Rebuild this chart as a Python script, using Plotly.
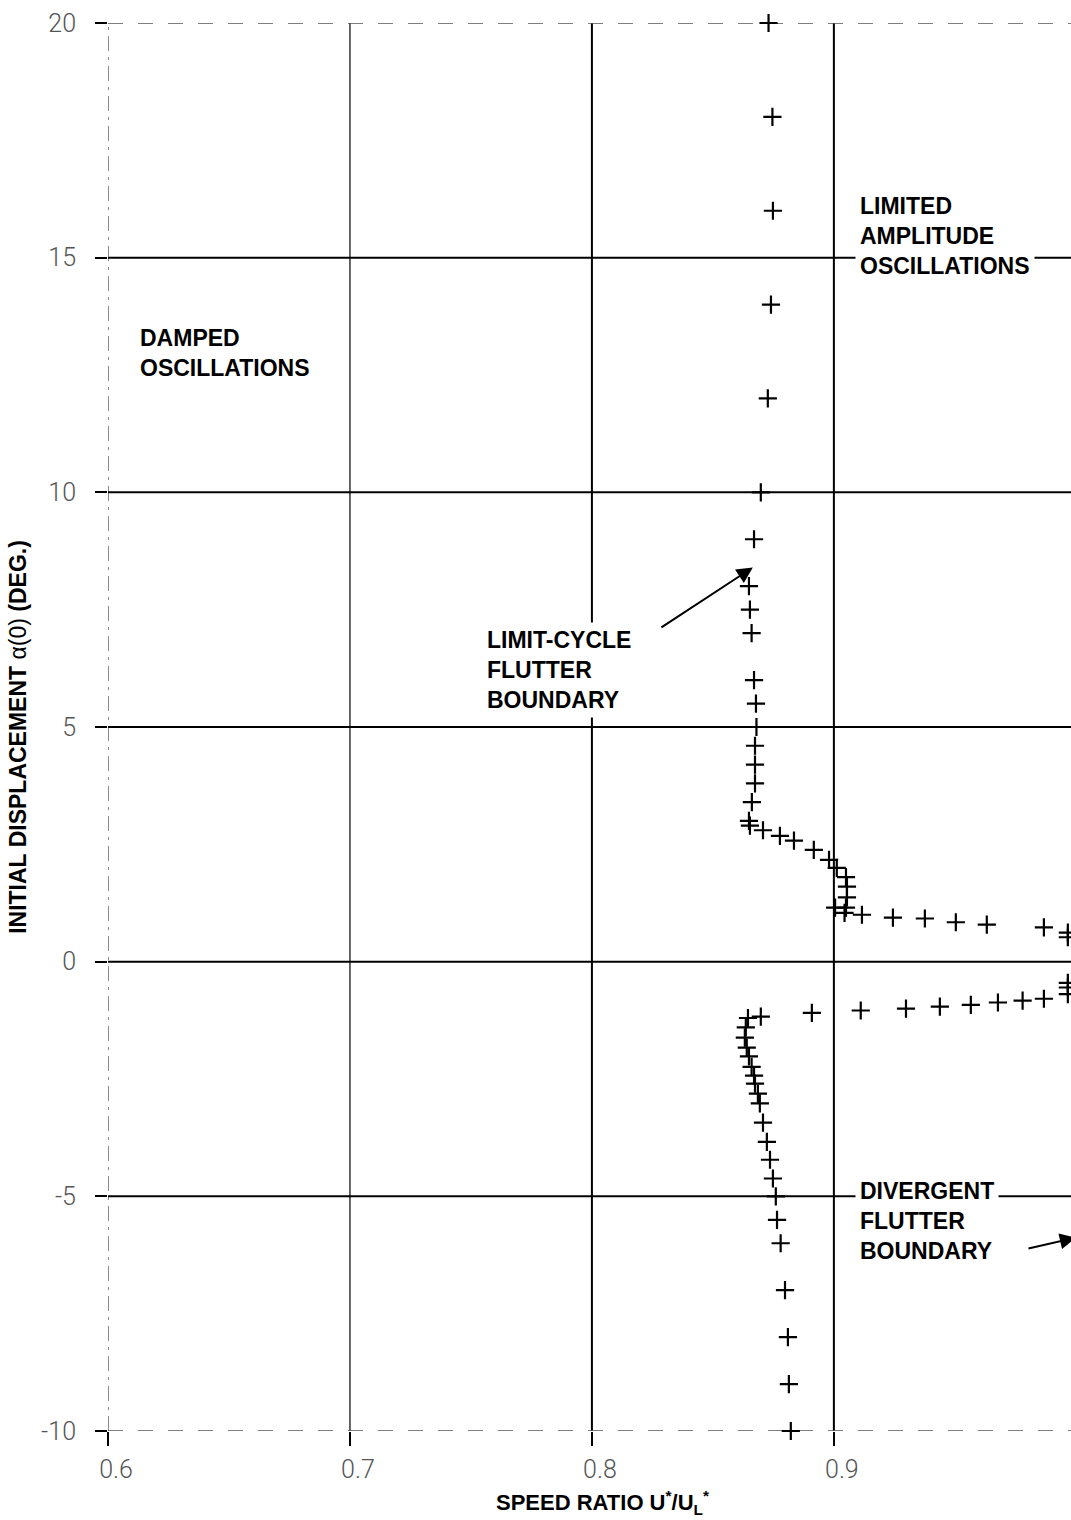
import plotly.graph_objects as go

# Flutter boundary points: speed ratio U*/U_L* vs initial displacement alpha(0) [deg]
limit_cycle_speed = [0.8730, 0.8746, 0.8748, 0.8740, 0.8727, 0.8698, 0.8670, 0.8649,
                     0.8653, 0.8660, 0.8670, 0.8678, 0.8680, 0.8674, 0.8674, 0.8674,
                     0.8661, 0.8649, 0.8653, 0.8707, 0.8777, 0.8835, 0.8917, 0.8980,
                     0.9012, 0.9050, 0.9054, 0.9054, 0.9050, 0.9005, 0.9044, 0.9116,
                     0.9244, 0.9376, 0.9504, 0.9632, 0.9868, 0.9967, 0.9967]
limit_cycle_alpha = [20.0, 18.0, 16.0, 14.0, 12.0, 10.0, 9.0, 8.0,
                     7.5, 7.0, 6.0, 5.5, 5.0, 4.6, 4.2, 3.8,
                     3.4, 3.0, 2.9, 2.8, 2.68, 2.58, 2.38, 2.17,
                     2.0, 1.8, 1.6, 1.37, 1.15, 1.15, 1.04, 1.0,
                     0.94, 0.92, 0.84, 0.79, 0.73, 0.62, 0.52]

divergent_speed = [0.9967, 0.9967, 0.9967, 0.9868, 0.9780, 0.9678, 0.9566, 0.9438,
                   0.9298, 0.9111, 0.8909, 0.8698, 0.8645, 0.8636, 0.8632, 0.8640,
                   0.8649, 0.8660, 0.8670, 0.8674, 0.8686, 0.8694, 0.8707, 0.8723,
                   0.8736, 0.8748, 0.8760, 0.8765, 0.8780, 0.8798, 0.8810, 0.8814,
                   0.8822]
divergent_alpha = [-0.45, -0.55, -0.69, -0.79, -0.83, -0.87, -0.92, -0.96,
                   -1.0, -1.04, -1.09, -1.17, -1.2, -1.4, -1.62, -1.83,
                   -2.02, -2.24, -2.43, -2.6, -2.81, -3.02, -3.43, -3.84,
                   -4.22, -4.62, -5.0, -5.5, -6.0, -7.0, -8.0, -9.0,
                   -10.0]

x_ticks = [0.6, 0.7, 0.8, 0.9]
x_tick_text = ["0.6", "0.7", "0.8", "0.9"]
y_ticks = [-10, -5, 0, 5, 10, 15, 20]
y_tick_text = ["-10", "-5", "0", "5", "10", "15", "20"]

X_RANGE = [0.6, 0.998]
Y_RANGE = [-10, 20]

fig = go.Figure()

marker_style = dict(symbol="cross-thin", size=13, color="black",
                    line=dict(width=2.2, color="black"))

fig.add_trace(go.Scatter(x=limit_cycle_speed, y=limit_cycle_alpha, mode="markers",
                         marker=marker_style, cliponaxis=False, showlegend=False))
fig.add_trace(go.Scatter(x=divergent_speed, y=divergent_alpha, mode="markers",
                         marker=marker_style, cliponaxis=False, showlegend=False))

# grid: frame edges dashed and grey, interior lines solid black
shapes = []
for xv in x_ticks:
    if xv == X_RANGE[0]:
        line = dict(color="#666", width=1.5, dash="longdashdot")
    elif xv == 0.7:
        line = dict(color="#333", width=1.5)
    else:
        line = dict(color="black", width=2)
    shapes.append(dict(type="line", xref="x", yref="paper", x0=xv, x1=xv, y0=0, y1=1,
                       line=line, layer="below"))
for yv in y_ticks:
    if yv in (Y_RANGE[0], Y_RANGE[1]):
        line = dict(color="#555", width=1.5, dash="longdash")
    else:
        line = dict(color="black", width=2)
    shapes.append(dict(type="line", xref="paper", yref="y", x0=0, x1=1, y0=yv, y1=yv,
                       line=line, layer="below"))

label_font = dict(family="Liberation Sans, Arial, sans-serif", size=23, color="black")

annotations = [
    dict(x=0.6124, y=12.96, xref="x", yref="y", xanchor="left", yanchor="middle",
         align="left", showarrow=False, font=label_font,
         text="<b>DAMPED<br>OSCILLATIONS</b>"),
    dict(x=0.9087, y=15.47, xref="x", yref="y", xanchor="left", yanchor="middle",
         align="left", showarrow=False, font=label_font, bgcolor="white", borderpad=4,
         text="<b>LIMITED<br>AMPLITUDE<br>OSCILLATIONS</b>"),
    dict(x=0.7546, y=6.22, xref="x", yref="y", xanchor="left", yanchor="middle",
         align="left", showarrow=False, font=label_font, bgcolor="white", borderpad=4,
         text="<b>LIMIT-CYCLE<br>FLUTTER<br>BOUNDARY</b>"),
    dict(x=0.9087, y=-5.52, xref="x", yref="y", xanchor="left", yanchor="middle",
         align="left", showarrow=False, font=label_font, bgcolor="white", borderpad=4,
         text="<b>DIVERGENT<br>FLUTTER<br>BOUNDARY</b>"),
    # arrows pointing at the two boundaries
    dict(x=0.8665, y=8.40, ax=0.8281, ay=7.10, xref="x", yref="y", axref="x", ayref="y",
         text="", showarrow=True, arrowhead=2, arrowsize=1.6, arrowwidth=2,
         arrowcolor="black"),
    dict(x=1.0, y=-5.88, ax=0.9798, ay=-6.12, xref="x", yref="y", axref="x", ayref="y",
         text="", showarrow=True, arrowhead=2, arrowsize=1.6, arrowwidth=2,
         arrowcolor="black"),
    # axis titles
    dict(x=-0.0935, y=0.493, xref="paper", yref="paper", textangle=-90,
         xanchor="center", yanchor="middle", showarrow=False,
         font=dict(family="Liberation Sans, Arial, sans-serif", size=23, color="black"),
         text="<b>INITIAL DISPLACEMENT</b> α(0) <b>(DEG.)</b>"),
    dict(x=0.513, y=-0.0511, xref="paper", yref="paper", xanchor="center",
         yanchor="middle", showarrow=False,
         font=dict(family="Liberation Sans, Arial, sans-serif", size=22, color="black"),
         text="<b>SPEED RATIO U<sup>*</sup>/U<sub>L</sub><sup>*</sup></b>"),
]

tick_font = dict(family="Roboto, Liberation Sans, sans-serif", size=25, color="#555",
                 weight=300)

fig.update_layout(
    width=1071, height=1520,
    margin=dict(l=108, r=0, t=23, b=89),
    paper_bgcolor="white", plot_bgcolor="white",
    shapes=shapes, annotations=annotations,
    xaxis=dict(range=X_RANGE, tickvals=x_ticks, ticktext=x_tick_text,
               showgrid=False, zeroline=False, showline=False,
               ticks="outside", ticklen=14, tickwidth=1.5, tickcolor="black",
               tickfont=tick_font, ticklabelshift=8, ticklabelstandoff=2),
    yaxis=dict(range=Y_RANGE, tickvals=y_ticks, ticktext=y_tick_text,
               showgrid=False, zeroline=False, showline=False,
               ticks="outside", ticklen=12, tickwidth=1.5, tickcolor="black",
               tickfont=tick_font, ticklabelstandoff=14),
)

fig.write_html("out.html")
